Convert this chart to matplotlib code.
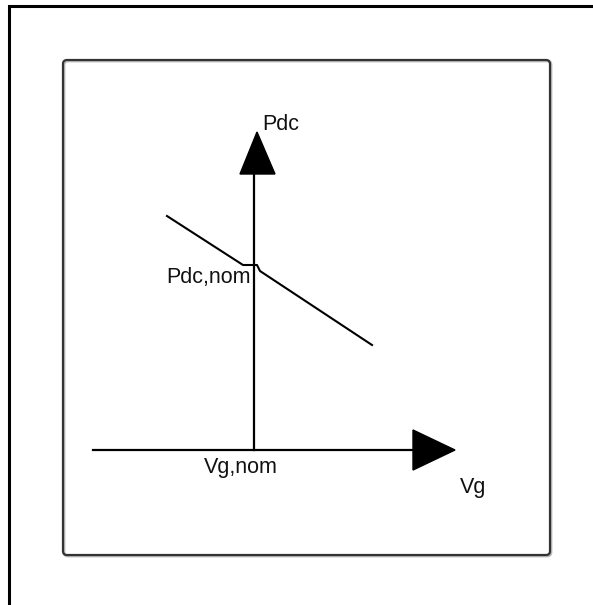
"""Droop-style sketch: Pdc versus Vg around the nominal point."""
import matplotlib
matplotlib.use("Agg")
import matplotlib.pyplot as plt
from matplotlib.patches import FancyBboxPatch

W, H = 593, 605

# diagram geometry, in image pixels (x right, y down)
V_AXIS_X = [254, 254]
V_AXIS_Y = [450, 174]
V_HEAD_X = [240, 257, 275]
V_HEAD_Y = [174, 132, 174]

H_AXIS_X = [93, 413]
H_AXIS_Y = [450, 450]
H_HEAD_X = [413, 455, 413]
H_HEAD_Y = [430, 450, 470]

# characteristic line with the small jog where it crosses the Pdc axis
CURVE_X = [167, 243, 257, 260, 372]
CURVE_Y = [216, 265, 265, 271, 345]

LABELS = [
    ("Pdc", 262, 124, "left"),
    ("Pdc,nom", 251, 277, "right"),
    ("Vg,nom", 241, 467, "center"),
    ("Vg", 460, 487, "left"),
]

plt.rcParams["font.family"] = ["Liberation Sans", "DejaVu Sans"]

fig = plt.figure(figsize=(W / 100, H / 100), dpi=100)
ax = fig.add_axes([0, 0, 1, 1])
ax.set_xlim(0, W)
ax.set_ylim(H, 0)
ax.axis("off")

# outer frame (only the top and left edges are visible in the crop)
ax.plot([9, 9, W], [H, 6, 6], color="black", lw=2.2, solid_joinstyle="miter")

# inner rounded box with a faint shadow
shadow = FancyBboxPatch((64, 61), 487, 495, boxstyle="round,pad=0,rounding_size=4",
                        fc="none", ec="#bbbbbb", lw=2.0)
ax.add_patch(shadow)
box = FancyBboxPatch((63, 60), 487, 495, boxstyle="round,pad=0,rounding_size=4",
                     fc="none", ec="#333333", lw=1.6)
ax.add_patch(box)

# axes with filled arrowheads
ax.plot(V_AXIS_X, V_AXIS_Y, color="black", lw=1.6)
ax.fill(V_HEAD_X, V_HEAD_Y, color="black")
ax.plot(H_AXIS_X, H_AXIS_Y, color="black", lw=1.6)
ax.fill(H_HEAD_X, H_HEAD_Y, color="black")

ax.plot(CURVE_X, CURVE_Y, color="black", lw=1.5)

for text, x, y, ha in LABELS:
    ax.text(x, y, text, ha=ha, va="center", fontsize=15.5, color="#111111")

fig.savefig("out.png", dpi=100)
